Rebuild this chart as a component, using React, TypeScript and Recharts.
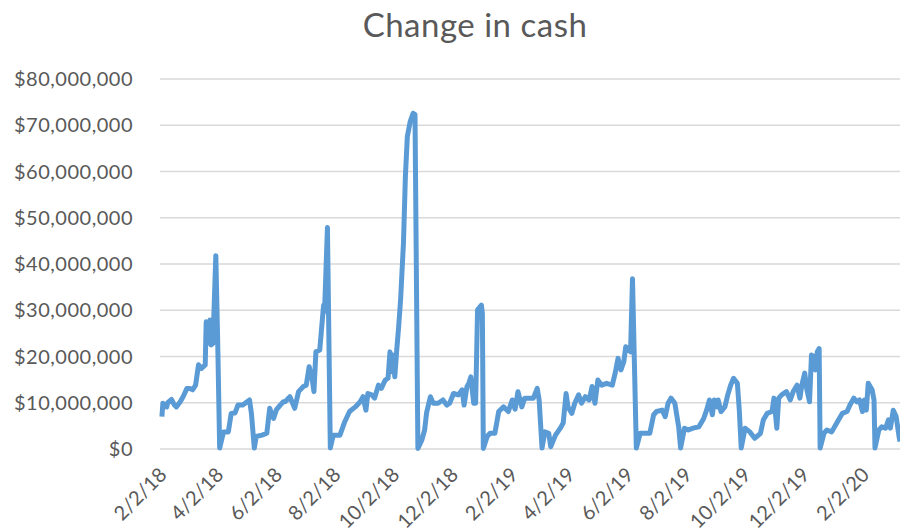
import React from "react";
import { LineChart, Line, XAxis, YAxis, CartesianGrid } from "recharts";

// day 0 = 2/2/18
const START = new Date(2018, 1, 2);

// days since 2/2/18
const dayOffsets = [
  -2, -1, 3, 4, 8, 11, 13, 17, 20, 24, 27, 30, 33, 36, 39, 43, 44, 46, 48, 49, 51, 54, 56,
  58, 62, 67, 70, 74, 77, 82, 89, 91,
  94, 96, 102, 107, 110, 114, 117, 121, 124, 126, 131, 136, 140, 145, 148, 151, 154, 156, 158, 162, 166, 167, 170,
  173, 176, 183, 188, 193, 199, 204, 207, 210, 212, 216, 219, 223, 226, 230, 233, 235, 237, 238, 240, 242, 244, 246, 249, 251, 253, 256, 259, 261,
  264, 268, 271, 273, 277, 280, 285, 290, 294, 297, 301, 306, 310, 312, 315, 317, 319, 322, 324, 326, 330, 331,
  332, 336, 339, 344, 348, 353, 358, 362, 365, 368, 372, 375, 384, 388, 390,
  393, 396, 400, 402, 407, 412, 415, 418, 420, 424, 427, 431, 434, 438, 442, 445, 448, 451, 455, 460, 466, 469, 472, 475, 478, 480, 485, 487,
  491, 495, 505, 509, 512, 518, 521, 524, 527, 531, 535,
  537, 541, 545, 550, 556, 561, 564, 567, 570, 572, 575, 576, 579, 583, 586, 589, 592, 596, 598,
  600, 604, 609, 614, 620, 623, 627, 632, 634, 637, 639, 642, 647, 651, 654, 658, 661, 663, 666, 668, 671, 673, 675, 677, 679, 681,
  682, 686, 689, 694, 700, 705, 710, 713, 717, 720, 723, 726, 728, 730, 732, 736, 738,
  739, 743, 746, 750, 753, 755, 758, 761, 764, 765,
];

// change in cash, $ millions
const cashMillions = [
  7.0, 9.9, 9.1, 10.0, 10.7, 9.5, 9.1, 10.2, 11.3, 13.1, 13.1, 12.8, 13.8, 18.2, 17.4, 18.2, 27.5, 22.9, 27.9, 22.5, 22.8, 41.8, 22.8,
  0.2, 3.7, 3.7, 7.7, 7.8, 9.5, 9.5, 10.6, 7.7,
  0.2, 2.7, 3.0, 3.4, 8.8, 6.6, 8.5, 9.5, 10.2, 10.2, 11.3, 8.8, 12.4, 13.5, 13.8, 17.8, 15.3, 12.4, 21.0, 21.4, 31.1, 29.7, 47.9,
  0.2, 3.0, 3.0, 5.9, 8.1, 9.1, 10.2, 11.3, 8.4, 12.0, 11.7, 11.0, 13.8, 13.1, 14.9, 15.3, 21.0, 16.7, 20.3, 15.6, 21.4, 26.4, 32.2, 44.5, 58.9, 67.5, 70.8, 72.6, 72.3,
  0.1, 1.9, 4.1, 7.8, 11.3, 9.9, 9.9, 10.6, 9.5, 9.9, 12.0, 11.7, 12.8, 9.5, 13.5, 14.2, 15.6, 9.9, 9.9, 30.1, 31.1, 29.3,
  0.1, 2.7, 3.4, 3.4, 8.1, 9.1, 8.1, 10.6, 8.6, 12.4, 9.1, 11.0, 11.0, 13.1, 10.6,
  0.2, 3.7, 3.4, 0.5, 3.0, 4.5, 5.6, 12.0, 9.1, 7.7, 9.9, 11.7, 9.9, 11.3, 10.6, 13.5, 9.9, 14.9, 13.8, 14.2, 13.8, 16.4, 19.6, 17.1, 18.9, 22.1, 21.0, 36.8,
  0.2, 3.4, 3.4, 7.4, 8.1, 8.4, 7.0, 9.9, 11.0, 9.9, 4.8,
  0.2, 4.5, 4.1, 4.5, 4.8, 6.6, 8.4, 10.6, 7.4, 10.6, 9.1, 10.6, 8.1, 9.1, 11.7, 13.8, 15.3, 14.2, 8.4,
  0.2, 4.5, 3.7, 2.3, 3.4, 6.3, 7.7, 8.1, 11.0, 4.5, 11.0, 11.7, 12.4, 10.6, 12.4, 13.8, 11.0, 13.8, 16.4, 13.1, 10.2, 20.3, 20.0, 17.1, 21.0, 21.7,
  0.2, 3.4, 4.1, 3.7, 5.9, 7.7, 8.1, 9.5, 11.0, 10.2, 10.6, 8.1, 10.6, 8.4, 14.2, 12.8, 10.6,
  0.2, 4.1, 4.8, 4.5, 6.3, 4.5, 8.4, 7.0, 2.7, 1.6,
];

// 2/2/18, 4/2/18 ... 2/2/20
const tickDays = [0, 59, 120, 181, 242, 303, 365, 424, 485, 546, 607, 668, 730];
const yTicks = [0, 10, 20, 30, 40, 50, 60, 70, 80];

const chartData = dayOffsets.map((d, i) => ({ day: d, cash: cashMillions[i] }));

const fmtDate = (d: number) => {
  const dt = new Date(START);
  dt.setDate(dt.getDate() + d);
  return `${dt.getMonth() + 1}/${dt.getDate()}/${String(dt.getFullYear()).slice(2)}`;
};
const fmtMoney = (v: number) => "$" + (v * 1000000).toLocaleString("en-US");

const textColor = "#595959";
const font = "Lato, 'Open Sans', sans-serif";

const App = () => {
  return (
    <div style={{ position: "absolute", left: 0, top: 0, width: 900, height: 529, overflow: "hidden", fontFamily: font }}>
      <div
        style={{
          position: "absolute",
          left: 475,
          top: 4,
          transform: "translateX(-50%)",
          whiteSpace: "nowrap",
          fontSize: 33,
          letterSpacing: 0.5,
          color: textColor,
        }}
      >
        Change in cash
      </div>
      <LineChart
        width={900}
        height={529}
        data={chartData}
        margin={{ top: 79, right: 0, left: 0, bottom: 0 }}
      >
        <CartesianGrid vertical={false} stroke="#D9D9D9" strokeWidth={1.5} />
        <XAxis
          dataKey="day"
          type="number"
          domain={[-4, 765]}
          ticks={tickDays}
          interval={0}
          tickFormatter={fmtDate}
          height={80}
          axisLine={false}
          tickLine={false}
          tickMargin={11}
          tick={{ angle: -45, textAnchor: "end", dx: -6, fontSize: 20, fill: textColor, fontFamily: font }}
        />
        <YAxis
          type="number"
          domain={[0, 80]}
          ticks={yTicks}
          interval={0}
          tickFormatter={fmtMoney}
          width={160}
          axisLine={false}
          tickLine={false}
          tickMargin={21}
          tick={{ fontSize: 20, letterSpacing: 0.5, fill: textColor, fontFamily: font }}
        />
        <Line
          type="linear"
          dataKey="cash"
          stroke="#5B9BD5"
          strokeWidth={5}
          strokeLinejoin="round"
          dot={false}
          isAnimationActive={false}
        />
      </LineChart>
    </div>
  );
};

export default App;
